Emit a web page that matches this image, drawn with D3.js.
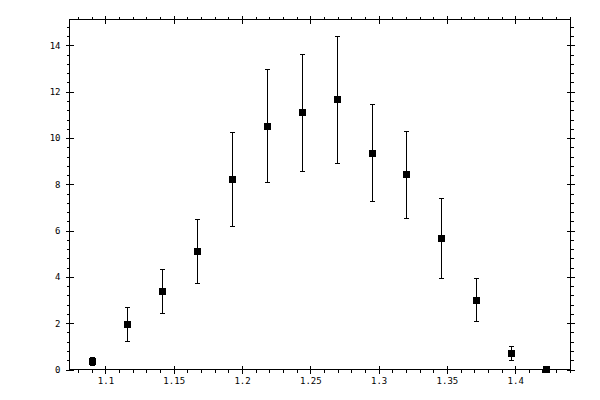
<!DOCTYPE html>
<html><head><meta charset="utf-8">
<script src="https://cdn.jsdelivr.net/npm/d3@7"></script>
<style>
body{margin:0;background:#fff;}
svg{display:block;}
.tick text{font-family:"DejaVu Sans Mono",monospace;font-size:9px;fill:#000;}
.domain{display:none;}
.tick line{stroke:#000;stroke-width:1;}
</style></head>
<body>
<svg id="c" width="600" height="400"></svg>
<script>
const xValues = [1.0905, 1.1160, 1.1416, 1.1671, 1.1927, 1.2182, 1.2438, 1.2693, 1.2949, 1.3204, 1.3460, 1.3715, 1.3971, 1.4226];
const yValues = [0.38, 1.97, 3.39, 5.12, 8.22, 10.53, 11.11, 11.67, 9.36, 8.43, 5.70, 3.02, 0.73, 0.04];
const yErrors = [0.18, 0.72, 0.97, 1.40, 2.02, 2.44, 2.53, 2.73, 2.10, 1.88, 1.73, 0.93, 0.30, 0.00];
const xMajorTicks = [1.1, 1.15, 1.2, 1.25, 1.3, 1.35, 1.4];
const xTickLabels = ["1.1", "1.15", "1.2", "1.25", "1.3", "1.35", "1.4"];
const yMajorTicks = [0, 2, 4, 6, 8, 10, 12, 14];
const yTickLabels = ["0", "2", "4", "6", "8", "10", "12", "14"];

const L = 69.5, R = 570.5, T = 19.5, B = 369.5;
const x = d3.scaleLinear().domain([1.0737, 1.4405]).range([L, R]);
const y = d3.scaleLinear().domain([0, 15.12]).range([B, T]);

const xMinor = d3.range(108, 145).map(v => v / 100).filter(v => v >= 1.0737 && v < 1.4405 && !xMajorTicks.some(m => Math.abs(m - v) < 1e-6));
const yMinor = d3.range(0, 38).map(v => +(v * 0.4).toFixed(2)).filter(v => v <= 15.12 && !yMajorTicks.some(m => Math.abs(m - v) < 1e-6));

const svg = d3.select("#c").attr("shape-rendering", "crispEdges");
const g = svg.append("g");

function addAxis(axisFn, scale, ticks, size, transform, labels, pad) {
  const a = axisFn(scale).tickValues(ticks).tickSizeInner(size).tickSizeOuter(0);
  if (labels) a.tickFormat((d, i) => labels[i]).tickPadding(pad); else a.tickFormat("");
  g.append("g").attr("transform", transform).call(a);
}
// bottom
addAxis(d3.axisBottom, x, xMajorTicks, 4, `translate(0,${B})`, xTickLabels, 4);
addAxis(d3.axisTop, x, xMajorTicks, 4, `translate(0,${B})`, null);
addAxis(d3.axisBottom, x, xMinor, 3, `translate(0,${B})`, null);
// top
addAxis(d3.axisTop, x, xMajorTicks, 4, `translate(0,${T})`, null);
addAxis(d3.axisBottom, x, xMajorTicks, 4, `translate(0,${T})`, null);
addAxis(d3.axisTop, x, xMinor, 3, `translate(0,${T})`, null);
// left
addAxis(d3.axisLeft, y, yMajorTicks, 4, `translate(${L},0)`, yTickLabels, 5);
addAxis(d3.axisRight, y, yMajorTicks, 4, `translate(${L},0)`, null);
addAxis(d3.axisLeft, y, yMinor, 3, `translate(${L},0)`, null);
// right
addAxis(d3.axisRight, y, yMajorTicks, 4, `translate(${R},0)`, null);
addAxis(d3.axisLeft, y, yMajorTicks, 4, `translate(${R},0)`, null);
addAxis(d3.axisRight, y, yMinor, 3, `translate(${R},0)`, null);

// frame
g.append("rect").attr("x", L).attr("y", T).attr("width", R - L).attr("height", B - T)
  .attr("fill", "none").attr("stroke", "#000").attr("stroke-width", 1);

const data = xValues.map((xv, i) => ({x: xv, y: yValues[i], e: yErrors[i]}));
const pts = g.append("g");
const px = d => Math.round(x(d.x)) + 0.5;
pts.selectAll("line.eb").data(data.filter(d => d.e > 0)).join("line").attr("class", "eb")
  .attr("x1", px).attr("x2", px)
  .attr("y1", d => Math.round(y(d.y - d.e)) + 0.5).attr("y2", d => Math.round(y(d.y + d.e)) + 0.5)
  .attr("stroke", "#000");
["lo", "hi"].forEach(k => {
  pts.selectAll("line.c" + k).data(data.filter(d => d.e > 0)).join("line").attr("class", "c" + k)
    .attr("x1", d => px(d) - 2.5).attr("x2", d => px(d) + 2.5)
    .attr("y1", d => Math.round(y(k === "lo" ? d.y - d.e : d.y + d.e)) + 0.5)
    .attr("y2", d => Math.round(y(k === "lo" ? d.y - d.e : d.y + d.e)) + 0.5)
    .attr("stroke", "#000");
});
pts.selectAll("rect.m").data(data).join("rect").attr("class", "m")
  .attr("x", d => Math.round(x(d.x)) - 3).attr("y", d => Math.round(y(d.y)) - 3)
  .attr("width", 7).attr("height", 7).attr("fill", "#000");
</script>
</body></html>
